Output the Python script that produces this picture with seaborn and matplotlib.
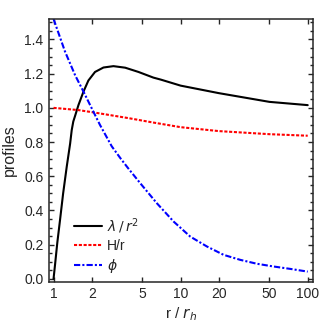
import matplotlib
matplotlib.use("Agg")
import matplotlib.pyplot as plt
import matplotlib.ticker as mticker
import seaborn as sns
import numpy as np

# values
r_lam = np.array([1.0, 1.03, 1.07, 1.125, 1.19, 1.27, 1.35, 1.39, 1.43, 1.48, 1.57, 1.72,
                  1.88, 2.12, 2.47, 2.96, 3.66, 4.66, 6.1, 7.0, 10, 20, 50, 100])
lam_r2 = np.array([0.0, 0.09, 0.21, 0.345, 0.50, 0.656, 0.79, 0.87, 0.92, 0.955, 1.016, 1.095,
                   1.16, 1.21, 1.236, 1.244, 1.235, 1.21, 1.177, 1.165, 1.13, 1.086, 1.035, 1.016])

r_h = np.array([1.0, 1.57, 2.12, 3.88, 6.1, 10, 20, 50, 100])
h_r = np.array([1.0, 0.987, 0.972, 0.94, 0.914, 0.887, 0.864, 0.846, 0.837])

r_phi = np.array([1.0, 1.23, 1.48, 1.72, 2.06, 2.32, 2.87, 3.4, 3.88, 4.8, 6.5, 8.8, 11.9,
                  16.1, 21.8, 29.4, 39.8, 53.8, 72.8, 100])
phi = np.array([1.52, 1.33, 1.19, 1.095, 0.977, 0.9, 0.775, 0.70, 0.645, 0.56, 0.442, 0.335,
                0.247, 0.189, 0.14, 0.111, 0.088, 0.072, 0.058, 0.042])

x_ticks = [1, 2, 5, 10, 20, 50, 100]
y_ticks = [0.0, 0.2, 0.4, 0.6, 0.8, 1.0, 1.2, 1.4]

sns.set_style("ticks")
plt.rcParams['font.family'] = ['Liberation Sans', 'DejaVu Sans']
plt.rcParams['font.size'] = 10

fig = plt.figure(figsize=(3.22, 3.27), dpi=100)
ax = fig.add_axes([0.152, 0.138, 0.82, 0.804])

sns.lineplot(x=r_lam, y=lam_r2, ax=ax, color='black', lw=1.5, sort=False,
             label=r'$\lambda\,/\,r^2$')
sns.lineplot(x=r_h, y=h_r, ax=ax, color='red', lw=1.5, sort=False,
             linestyle=(0, (1.5, 0.8)), label='H/r')
sns.lineplot(x=r_phi, y=phi, ax=ax, color='blue', lw=1.5, sort=False,
             linestyle=(0, (3, 1, 1, 1)), label=r'$\phi$')

ax.set_xscale('log')
ax.set_xlim(0.92, 110)
ax.set_ylim(-0.018, 1.52)
ax.set_xticks(x_ticks)
ax.xaxis.set_major_formatter(mticker.FixedFormatter([str(t) for t in x_ticks]))
ax.xaxis.set_minor_locator(mticker.NullLocator())
ax.set_yticks(y_ticks)
ax.set_yticklabels(['%.1f' % t for t in y_ticks])
ax.yaxis.set_minor_locator(mticker.MultipleLocator(0.05))

ax.tick_params(which='both', direction='in', top=True, right=True, labelsize=10,
               width=1.0, pad=4)
ax.tick_params(which='major', length=3.5)
ax.tick_params(which='minor', length=2)
for s in ax.spines.values():
    s.set_linewidth(1.1)

ax.set_xlabel(r'r / $r_h$', fontsize=11, labelpad=3)
ax.set_ylabel('profiles', fontsize=11.5, labelpad=5)

ax.legend(loc='upper left', bbox_to_anchor=(0.095, 0.25), frameon=False,
          borderpad=0, borderaxespad=0, handlelength=2.0, handletextpad=0.4,
          labelspacing=0.25, fontsize=10)

fig.savefig('out.png', dpi=100)
